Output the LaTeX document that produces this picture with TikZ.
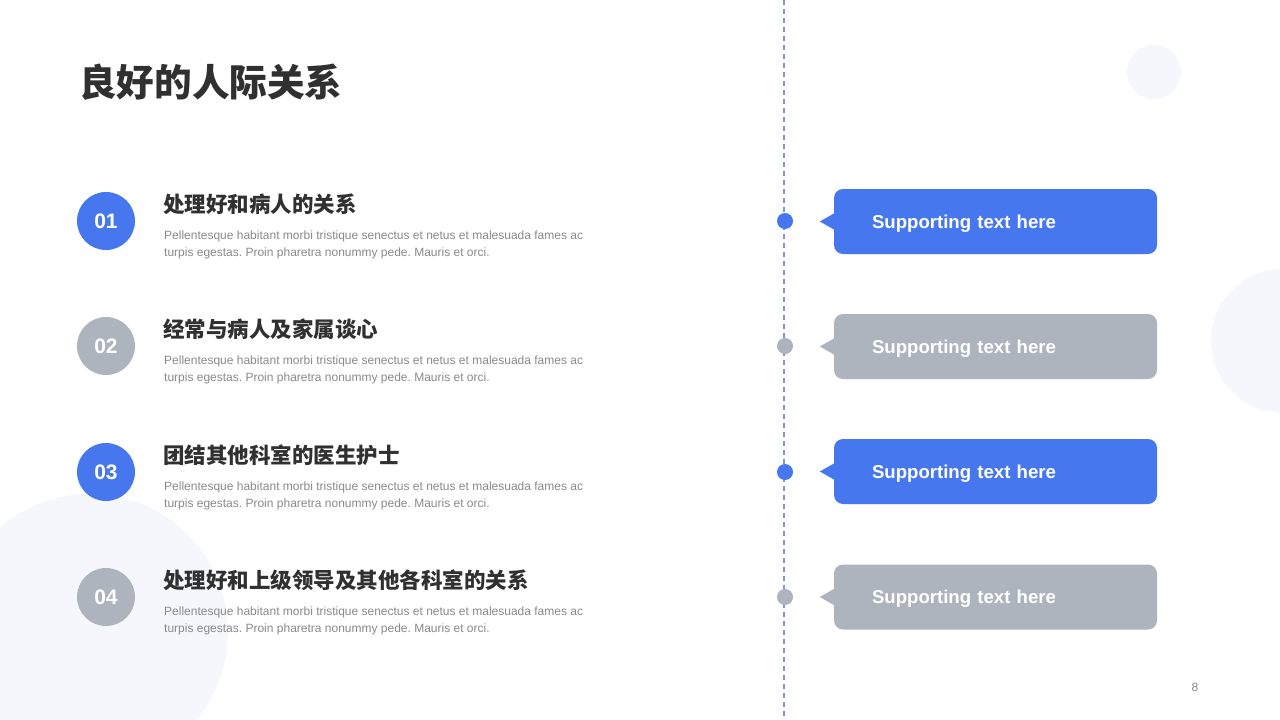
\documentclass[tikz,border=0pt]{standalone}
\usepackage{fontspec}
\setmainfont{Liberation Sans}
\newfontfamily\cjk{Noto Sans CJK SC}
\usetikzlibrary{positioning}

\definecolor{itemblue}{HTML}{4677EE}
\definecolor{itemgray}{HTML}{ADB4BE}
\definecolor{bgcircle}{HTML}{F5F7FD}
\definecolor{axisblue}{HTML}{7598EE}
\definecolor{headcol}{HTML}{303030}
\definecolor{bodycol}{HTML}{8A8A8A}

\begin{document}
\frenchspacing
\begin{tikzpicture}[x=1pt,y=-1pt,
  numdot/.style={circle,fill=#1,minimum size=58pt,inner sep=0pt,text=white,
    font=\bfseries\fontsize{21}{21}\selectfont},
  headline/.style={anchor=west,inner sep=0pt,text=headcol,
    font=\cjk\bfseries\fontsize{21.5}{21.5}\selectfont},
  bodytext/.style={anchor=west,inner sep=0pt,align=left,text=bodycol,
    font=\fontsize{12}{17.5}\selectfont},
  tldot/.style={circle,fill=#1,minimum size=16pt,inner sep=0pt},
  tipbox/.style={fill=#1,rounded corners=9pt,minimum width=323pt,minimum height=65pt,
    inner xsep=38pt,text width=247pt,text depth=0pt,align=left,text=white,
    font=\bfseries\fontsize{18.6}{18.6}\selectfont}]
  \useasboundingbox (0,0) rectangle (1280,720);
  % 背景
  \fill[white] (0,0) rectangle (1280,720);
  \fill[bgcircle] (90,632) circle (138);
  \fill[bgcircle] (1154,72) circle (27);
  \fill[bgcircle] (1283,341) circle (72);
  % タイトル
  \node[anchor=west,inner sep=0pt,text=headcol,font=\cjk\bfseries\fontsize{37.6}{37.6}\selectfont]
    (title) at (79,82) {良好的人际关系};
  % 軸
  \coordinate (top) at (784,0);
  \coordinate (bottom) at (784,720);
  \draw[axisblue,line width=1.6pt,dash pattern=on 5pt off 4pt] (top) -- (bottom);
  % 左側
  \node[numdot=itemblue] (n1) at (106,221) {01};
  \node[numdot=itemgray] (n2) at (106,346) {02};
  \node[numdot=itemblue] (n3) at (106,472) {03};
  \node[numdot=itemgray] (n4) at (106,597) {04};
  \node[headline] (h1) at (163,204) {处理好和病人的关系};
  \node[headline] (h2) at (163,329) {经常与病人及家属谈心};
  \node[headline] (h3) at (163,455) {团结其他科室的医生护士};
  \node[headline] (h4) at (163,580) {处理好和上级领导及其他各科室的关系};
  \node[bodytext] (t1) at (164,245) {Pellentesque habitant morbi tristique senectus et netus et malesuada fames ac\\turpis egestas. Proin pharetra nonummy pede. Mauris et orci.};
  \node[bodytext] (t2) at (164,370) {Pellentesque habitant morbi tristique senectus et netus et malesuada fames ac\\turpis egestas. Proin pharetra nonummy pede. Mauris et orci.};
  \node[bodytext] (t3) at (164,496) {Pellentesque habitant morbi tristique senectus et netus et malesuada fames ac\\turpis egestas. Proin pharetra nonummy pede. Mauris et orci.};
  \node[bodytext] (t4) at (164,621) {Pellentesque habitant morbi tristique senectus et netus et malesuada fames ac\\turpis egestas. Proin pharetra nonummy pede. Mauris et orci.};
  % 右側
  \node[tldot=itemblue] (d1) at (785,221) {};
  \node[tldot=itemgray] (d2) at (785,346) {};
  \node[tldot=itemblue] (d3) at (785,472) {};
  \node[tldot=itemgray] (d4) at (785,597) {};
  \node[tipbox=itemblue] (b1) at (995.5,221.5) {Supporting text here};
  \node[tipbox=itemgray] (b2) at (995.5,346.5) {Supporting text here};
  \node[tipbox=itemblue] (b3) at (995.5,471.5) {Supporting text here};
  \node[tipbox=itemgray] (b4) at (995.5,597) {Supporting text here};
  \fill[itemblue] ([xshift=1pt]b1.west) ++(0,-8.5) -- ++(-15,8.5) -- ++(15,8.5) -- cycle;
  \fill[itemgray] ([xshift=1pt]b2.west) ++(0,-8.5) -- ++(-15,8.5) -- ++(15,8.5) -- cycle;
  \fill[itemblue] ([xshift=1pt]b3.west) ++(0,-8.5) -- ++(-15,8.5) -- ++(15,8.5) -- cycle;
  \fill[itemgray] ([xshift=1pt]b4.west) ++(0,-8.5) -- ++(-15,8.5) -- ++(15,8.5) -- cycle;
  % ページ番号
  \node[text=bodycol,font=\fontsize{12}{12}\selectfont] (page) at (1195,687) {8};
\end{tikzpicture}
\end{document}
